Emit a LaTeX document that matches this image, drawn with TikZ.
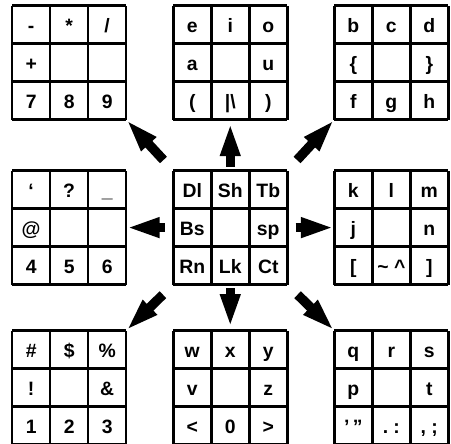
\documentclass[tikz,border=0pt]{standalone}
\usepackage{fontspec}
\setmainfont{Liberation Sans}
\usetikzlibrary{calc,arrows.meta}

\begin{document}
\begin{tikzpicture}[
  pad/.style={minimum size=3cm,inner sep=0pt,outer sep=0pt},
  keyline/.style={line width=2pt},
  key/.style={anchor=base,inner sep=0pt,font=\fontsize{14.5}{17}\selectfont\bfseries},
  bigarrow/.style={line width=0.25cm,-{Triangle[length=0.88cm,width=0.48cm]}}]
  \useasboundingbox (0,0) rectangle (11.87,11.68);
  \newcommand{\keypad}[4]{%
    \node[pad] (#1) at (#2,#3) {};
    \draw[keyline,shift={(#1.south west)}] (0,0) grid (3,3);
    \foreach \lbl [count=\idx from 0] in {#4} {
      \pgfmathtruncatemacro{\col}{mod(\idx,3)}
      \pgfmathtruncatemacro{\row}{div(\idx,3)}
      \node[key] (#1-\idx) at ($(#1.north west)+(\col+.5,-\row-.7)$) {\lbl};
    }}
  % Top row of pads.
  \keypad{nw}{1.82}{10.03}{-,*,{/},+,{},{},7,8,9}
  \keypad{n}{6.06}{10.03}{e,i,o,a,{},u,{(},{|\textbackslash},{)}}
  \keypad{ne}{10.30}{10.03}{b,c,d,{\{},{},{\}},f,g,h}
  % Middle row: the control pad sits in the centre.
  \keypad{w}{1.82}{5.69}{`,?,{\_},@,{},{},4,5,6}
  \keypad{mid}{6.06}{5.69}{Dl,Sh,Tb,Bs,{},sp,Rn,Lk,Ct}
  \keypad{e}{10.30}{5.69}{k,l,m,j,{},n,{[},{\textasciitilde\ \textasciicircum},{]}}
  % Bottom row of pads.
  \keypad{sw}{1.82}{1.48}{{\#},{\$},{\%},!,{},{\&},1,2,3}
  \keypad{s}{6.06}{1.48}{w,x,y,v,{},z,<,0,>}
  \keypad{se}{10.30}{1.48}{q,r,s,p,{},t,{'\,"},{.\;:},{,\;;}}
  % Arrows from the centre pad out to the others.
  \draw[bigarrow,shorten <=0.1cm,shorten >=0.08cm] (mid.north) -- (n.south);
  \draw[bigarrow,shorten <=0.1cm,shorten >=0.08cm] (mid.south) -- (s.north);
  \draw[bigarrow,shorten <=0.22cm] (mid.west) -- (w.east);
  \draw[bigarrow,shorten <=0.22cm] (mid.east) -- (e.west);
  \foreach \p/\a/\b in {nw/north west/south east,ne/north east/south west,
                        sw/south west/north east,se/south east/north west}
    \draw[bigarrow,shorten <=0.38cm] (mid.\a) -- (\p.\b);
\end{tikzpicture}
\end{document}
